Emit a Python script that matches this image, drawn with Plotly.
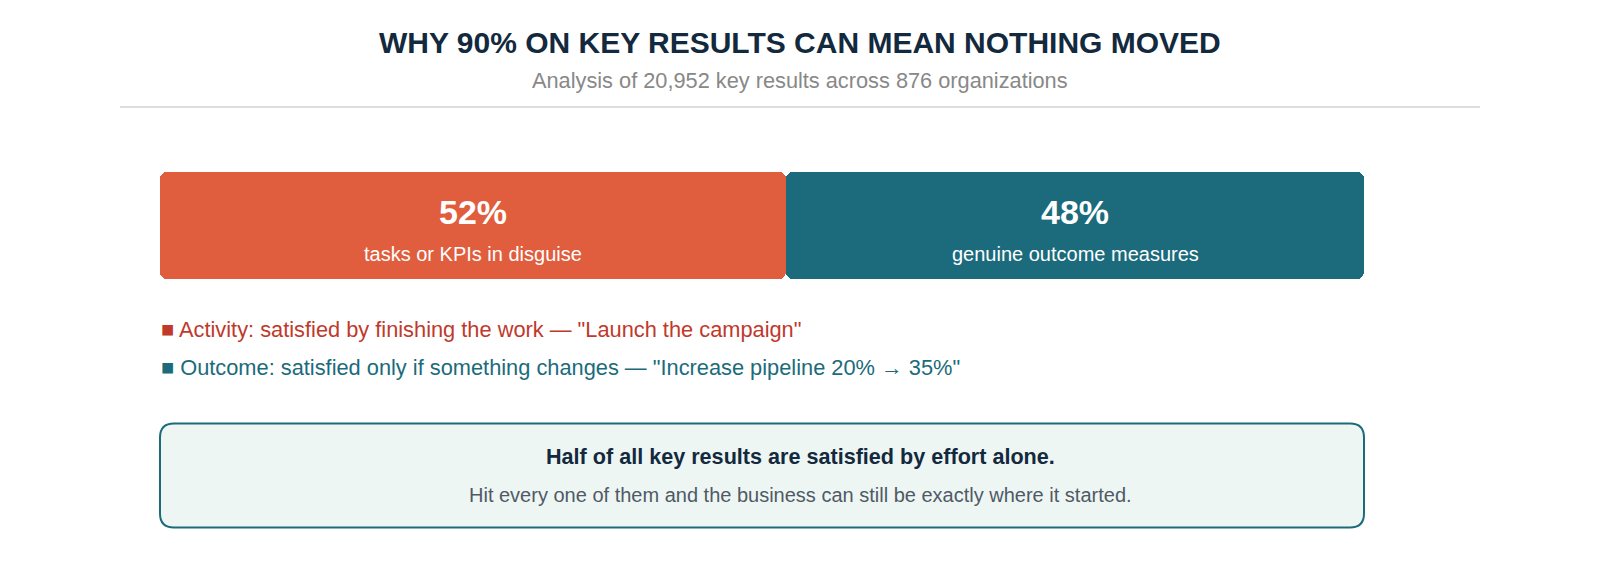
import plotly.graph_objects as go

# ---- data ----
categories = ["Activity", "Outcome"]
shares = [52, 48]
big_labels = ["52%", "48%"]
sub_labels = ["tasks or KPIs in disguise", "genuine outcome measures"]
bar_colors = ["#e05d3d", "#1b6b7c"]
legend_lines = [
    "■ Activity: satisfied by finishing the work — \"Launch the campaign\"",
    "■ Outcome: satisfied only if something changes — \"Increase pipeline 20% → 35%\"",
]
legend_colors = ["#c0392b", "#1b6b7b"]
title_text = "WHY 90% ON KEY RESULTS CAN MEAN NOTHING MOVED"
subtitle_text = "Analysis of 20,952 key results across 876 organizations"
callout_head = "Half of all key results are satisfied by effort alone."
callout_body = "Hit every one of them and the business can still be exactly where it started."

W, H = 1600, 580
FONT = "Liberation Sans, Arial, Helvetica, sans-serif"


def px(x):
    return x / W


def py(y):
    return 1 - y / H


fig = go.Figure()

start = 0
mids = []
for cat, s, col in zip(categories, shares, bar_colors):
    mid = start + s / 2
    mids.append(mid)
    # two overlapping pieces so that every corner of the segment is rounded
    fig.add_trace(go.Bar(
        y=[0, 0], x=[s / 2, -(3 * s / 4)], base=[mid, mid + s / 4], orientation="h",
        width=1, marker=dict(color=col, line=dict(width=0), cornerradius=7),
        name=cat, hoverinfo="skip", showlegend=False,
    ))
    start += s

CX = 792
annotations = [
    dict(text=f"<b>{title_text}</b>", x=px(CX), y=py(34), xref="paper", yref="paper",
         showarrow=False, xanchor="center", yanchor="middle",
         font=dict(family=FONT, size=30, color="#13293d")),
    dict(text=subtitle_text, x=px(CX), y=py(72), xref="paper", yref="paper",
         showarrow=False, xanchor="center", yanchor="middle",
         font=dict(family=FONT, size=21.75, color="#888888")),
]
for mid, bl, sl in zip(mids, big_labels, sub_labels):
    annotations.append(dict(text=f"<b>{bl}</b>", x=mid, y=py(204), xref="x", yref="paper",
                            showarrow=False, xanchor="center", yanchor="middle",
                            font=dict(family=FONT, size=34, color="white")))
    annotations.append(dict(text=sl, x=mid, y=py(245.5), xref="x", yref="paper",
                            showarrow=False, xanchor="center", yanchor="middle",
                            font=dict(family=FONT, size=20, color="white")))
for i, (t, c) in enumerate(zip(legend_lines, legend_colors)):
    annotations.append(dict(text=t, x=px(151), y=py(321.5 + 38 * i), xref="paper", yref="paper",
                            showarrow=False, xanchor="left", yanchor="middle",
                            font=dict(family=FONT, size=21.8, color=c)))
annotations.append(dict(text=f"<b>{callout_head}</b>", x=px(CX), y=py(448), xref="paper", yref="paper",
                        showarrow=False, xanchor="center", yanchor="middle",
                        font=dict(family=FONT, size=21.6, color="#13293d")))
annotations.append(dict(text=callout_body, x=px(CX), y=py(487), xref="paper", yref="paper",
                        showarrow=False, xanchor="center", yanchor="middle",
                        font=dict(family=FONT, size=20, color="#4f5a66")))


def rounded_rect(x0, y0, x1, y1, r):
    pts = [
        f"M {px(x0 + r)} {py(y0)}",
        f"L {px(x1 - r)} {py(y0)}",
        f"Q {px(x1)} {py(y0)} {px(x1)} {py(y0 + r)}",
        f"L {px(x1)} {py(y1 - r)}",
        f"Q {px(x1)} {py(y1)} {px(x1 - r)} {py(y1)}",
        f"L {px(x0 + r)} {py(y1)}",
        f"Q {px(x0)} {py(y1)} {px(x0)} {py(y1 - r)}",
        f"L {px(x0)} {py(y0 + r)}",
        f"Q {px(x0)} {py(y0)} {px(x0 + r)} {py(y0)}",
        "Z",
    ]
    return " ".join(pts)


shapes = [
    dict(type="line", xref="paper", yref="paper", x0=px(112), x1=px(1472), y0=py(99), y1=py(99),
         line=dict(color="#dddddd", width=2)),
    dict(type="path", xref="paper", yref="paper", path=rounded_rect(152, 415.5, 1356, 519.5, 14),
         fillcolor="#eef6f3", line=dict(color="#1b6b7b", width=2), layer="below"),
]

fig.update_layout(
    width=W, height=H, margin=dict(l=0, r=0, t=0, b=0),
    paper_bgcolor="white", plot_bgcolor="white",
    barmode="overlay", bargap=0,
    xaxis=dict(domain=[px(152), px(1356)], range=[0, 100], visible=False, fixedrange=True),
    yaxis=dict(domain=[py(271), py(164)], range=[-0.5, 0.5], visible=False, fixedrange=True),
    annotations=annotations, shapes=shapes, showlegend=False,
)

fig.write_html("out.html")
